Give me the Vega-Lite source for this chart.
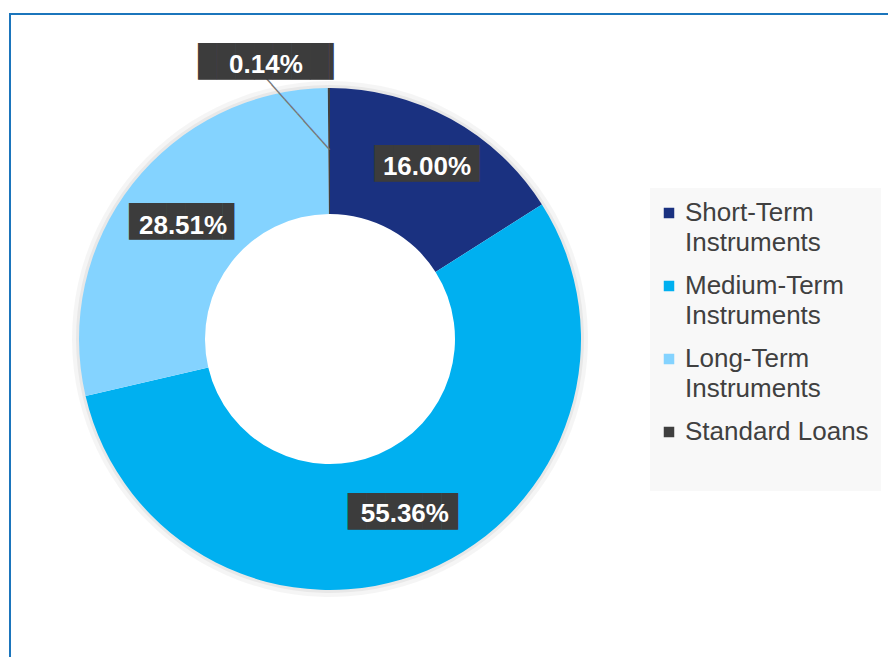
{
  "$schema": "https://vega.github.io/schema/vega-lite/v6.json",
  "width": 878,
  "height": 643,
  "autosize": {"type": "none"},
  "padding": {"left": 10, "top": 14, "right": 0, "bottom": 0},
  "background": "white",
  "view": {"stroke": "#1B75BC", "strokeWidth": 2, "strokeDash": [878, 1521, 643]},
  "data": {
    "values": [
      {"category": "Short-Term Instruments", "share": 16.00, "label": "16.00%", "order": 1},
      {"category": "Medium-Term Instruments", "share": 55.36, "label": "55.36%", "order": 2},
      {"category": "Long-Term Instruments", "share": 28.51, "label": "28.51%", "order": 3},
      {"category": "Standard Loans", "share": 0.14, "label": "0.14%", "order": 4}
    ]
  },
  "encoding": {
    "theta": {"field": "share", "type": "quantitative", "stack": true},
    "order": {"field": "order", "type": "quantitative"},
    "detail": {"field": "category", "type": "nominal"}
  },
  "layer": [
    {
      "mark": {"type": "arc", "x": 320, "y": 325, "outerRadius": 258, "innerRadius": 246, "color": "#000000", "opacity": 0.04}
    },
    {
      "mark": {"type": "arc", "x": 320, "y": 325, "outerRadius": 254, "innerRadius": 246, "color": "#000000", "opacity": 0.05}
    },
    {
      "mark": {"type": "arc", "x": 320, "y": 325, "outerRadius": 251, "innerRadius": 125},
      "encoding": {
        "color": {
          "field": "category",
          "type": "nominal",
          "scale": {
            "domain": ["Short-Term Instruments", "Medium-Term Instruments", "Long-Term Instruments", "Standard Loans"],
            "range": ["#1A3180", "#00B0F0", "#84D3FF", "#3F3F3F"]
          },
          "legend": {
            "orient": "none",
            "legendX": 640,
            "legendY": 174,
            "title": " ",
            "titleOrient": "bottom",
            "titleFontSize": 20,
            "titlePadding": 14,
            "fillColor": "#F8F8F8",
            "padding": 12,
            "symbolType": "square",
            "symbolSize": 110,
            "symbolStrokeWidth": 0,
            "symbolOffset": -6,
            "labelFont": "Liberation Sans",
            "labelFontSize": 26,
            "labelColor": "#404040",
            "labelOffset": 3,
            "labelLimit": 400,
            "rowPadding": 17,
            "labelBaseline": "top",
            "labelExpr": "datum.label == 'Standard Loans' ? datum.label : split(datum.label, ' ')",
            "encode": {"labels": {"update": {"lineHeight": {"value": 30}, "dy": {"value": -13}}}}
          }
        }
      }
    },
    {
      "mark": {"type": "text", "x": 320, "y": 325, "radius": 189, "angle": 48.4, "align": "right", "baseline": "middle", "font": "DejaVu Sans Mono", "fontSize": 16, "color": "#767676"},
      "encoding": {
        "text": {"condition": {"test": "datum.category === 'Standard Loans'", "value": "──────────"}, "value": ""}
      }
    },
    {
      "mark": {"type": "text", "x": 320, "y": 325, "radius": 198, "dx": 5.1, "dy": -0.5, "align": "center", "baseline": "middle", "font": "DejaVu Sans Mono", "fontSize": 31, "color": "#3C3C3C"},
      "encoding": {
        "text": {"condition": {"test": "datum.category === 'Short-Term Instruments'", "value": "█████▋"}, "value": ""}
      }
    },
    {
      "mark": {"type": "text", "x": 320, "y": 325, "radius": 188, "dx": 1.3, "dy": 0.9, "align": "center", "baseline": "middle", "font": "DejaVu Sans Mono", "fontSize": 31, "color": "#3C3C3C"},
      "encoding": {
        "text": {"condition": {"test": "datum.category === 'Medium-Term Instruments'", "value": "█████▉"}, "value": ""}
      }
    },
    {
      "mark": {"type": "text", "x": 320, "y": 325, "radius": 190, "dx": 4.5, "dy": 1.0, "align": "center", "baseline": "middle", "font": "DejaVu Sans Mono", "fontSize": 31, "color": "#3C3C3C"},
      "encoding": {
        "text": {"condition": {"test": "datum.category === 'Long-Term Instruments'", "value": "█████▋"}, "value": ""}
      }
    },
    {
      "mark": {"type": "text", "x": 320, "y": 325, "radius": 277, "dx": -55.8, "dy": 1.2, "align": "center", "baseline": "middle", "font": "DejaVu Sans Mono", "fontSize": 31, "color": "#3C3C3C"},
      "encoding": {
        "text": {"condition": {"test": "datum.category === 'Standard Loans'", "value": "███████▎"}, "value": ""}
      }
    },
    {
      "mark": {"type": "text", "x": 320, "y": 325, "radius": 198, "dx": 1.6, "dy": 1.8, "align": "center", "baseline": "middle", "font": "Liberation Sans", "fontWeight": "bold", "fontSize": 26, "color": "#FFFFFF"},
      "encoding": {
        "text": {"condition": {"test": "datum.category === 'Short-Term Instruments'", "field": "label"}, "value": ""}
      }
    },
    {
      "mark": {"type": "text", "x": 320, "y": 325, "radius": 188, "dx": 2.1, "dy": 1.5, "align": "center", "baseline": "middle", "font": "Liberation Sans", "fontWeight": "bold", "fontSize": 26, "color": "#FFFFFF"},
      "encoding": {
        "text": {"condition": {"test": "datum.category === 'Medium-Term Instruments'", "field": "label"}, "value": ""}
      }
    },
    {
      "mark": {"type": "text", "x": 320, "y": 325, "radius": 190, "dx": 2.4, "dy": 4.3, "align": "center", "baseline": "middle", "font": "Liberation Sans", "fontWeight": "bold", "fontSize": 26, "color": "#FFFFFF"},
      "encoding": {
        "text": {"condition": {"test": "datum.category === 'Long-Term Instruments'", "field": "label"}, "value": ""}
      }
    },
    {
      "mark": {"type": "text", "x": 320, "y": 325, "radius": 277, "dx": -62.8, "dy": 2.8, "align": "center", "baseline": "middle", "font": "Liberation Sans", "fontWeight": "bold", "fontSize": 26, "color": "#FFFFFF"},
      "encoding": {
        "text": {"condition": {"test": "datum.category === 'Standard Loans'", "field": "label"}, "value": ""}
      }
    }
  ]
}
